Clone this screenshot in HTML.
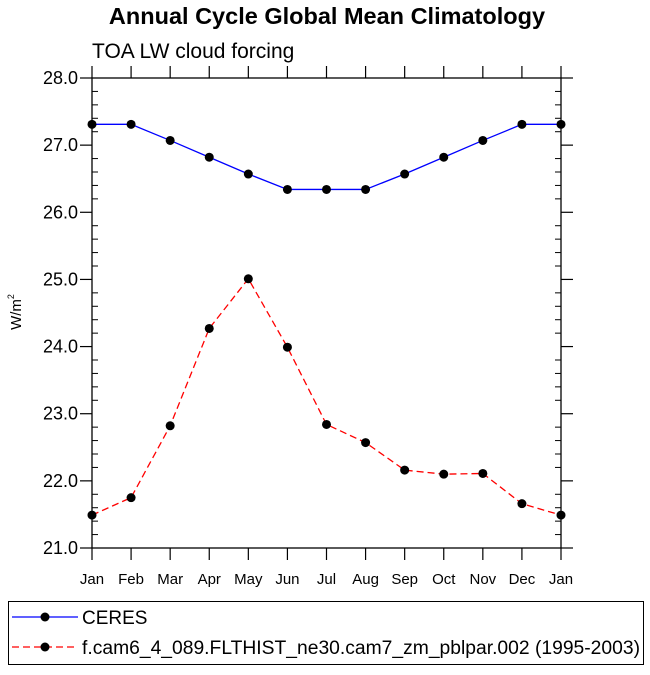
<!DOCTYPE html>
<html><head><meta charset="utf-8"><style>
body{margin:0;background:#fff;width:650px;height:670px;overflow:hidden;font-family:"Liberation Sans",sans-serif}
</style></head><body>
<svg width="650" height="670" xmlns="http://www.w3.org/2000/svg" id="chart" font-family="Liberation Sans, sans-serif">
<text x="327" y="24" text-anchor="middle" font-size="23.5" font-weight="bold">Annual Cycle Global Mean Climatology</text>
<text x="92" y="58" font-size="21">TOA LW cloud forcing</text>
<text transform="translate(21,312) rotate(-90)" text-anchor="middle" font-size="15">W/m<tspan font-size="9" dy="-7">2</tspan></text>
<g id="axes"></g>
<g id="series"></g>
<g>
<rect x="8.5" y="601.5" width="635" height="63" fill="none" stroke="#000"/>
<g>
<line x1="12" y1="617" x2="78" y2="617" stroke="#0000ff" stroke-width="1.3"/><circle cx="45" cy="617" r="4.5"/>
<text x="82" y="624" font-size="19">CERES</text></g>
<g>
<line x1="12" y1="647" x2="78" y2="647" stroke="#ff0000" stroke-width="1.3" stroke-dasharray="7,4"/><circle cx="45" cy="647" r="4.5"/>
<text x="82" y="654" font-size="19" textLength="558" lengthAdjust="spacingAndGlyphs">f.cam6_4_089.FLTHIST_ne30.cam7_zm_pblpar.002 (1995-2003)</text></g>
</g>
</svg>
<script>
const months=["Jan","Feb","Mar","Apr","May","Jun","Jul","Aug","Sep","Oct","Nov","Dec","Jan"];
const ceres=[27.31,27.31,27.07,26.82,26.57,26.34,26.34,26.34,26.57,26.82,27.07,27.31,27.31];
const model=[21.49,21.75,22.82,24.27,25.01,23.99,22.84,22.57,22.16,22.10,22.11,21.66,21.49];
const yTicks=["21.0","22.0","23.0","24.0","25.0","26.0","27.0","28.0"];
const NS="http://www.w3.org/2000/svg";
const L=92,R=561,T=78,B=548,ymin=21,ymax=28;
const xs=i=>L+i*(R-L)/(months.length-1);
const ys=v=>B-(v-ymin)/(ymax-ymin)*(B-T);
function mk(tag,at,parent){const e=document.createElementNS(NS,tag);for(const k in at)e.setAttribute(k,at[k]);parent.appendChild(e);return e;}
const ax=document.getElementById('axes');
const frame=mk('rect',{x:L,y:T,width:R-L,height:B-T,fill:'none',stroke:'#000','stroke-width':1.3},ax);


months.forEach((m,i)=>{const x=xs(i);
mk('line',{x1:x,y1:B,x2:x,y2:B+12,stroke:'#000','stroke-width':1.2},ax);
mk('line',{x1:x,y1:T,x2:x,y2:T-12,stroke:'#000','stroke-width':1.2},ax);
const t=mk('text',{x:x,y:B+36,'text-anchor':'middle','font-size':15},ax);t.textContent=m;

});
yTicks.forEach(s=>{const v=parseFloat(s),y=ys(v);
mk('line',{x1:L-12,y1:y,x2:L,y2:y,stroke:'#000','stroke-width':1.2},ax);
mk('line',{x1:R,y1:y,x2:R+12,y2:y,stroke:'#000','stroke-width':1.2},ax);
const t=mk('text',{x:L-14,y:y+6,'text-anchor':'end','font-size':18},ax);t.textContent=s;


if(v<ymax){for(let k=1;k<5;k++){const yy=ys(v+k*0.2);
mk('line',{x1:L,y1:yy,x2:L+6,y2:yy,stroke:'#000','stroke-width':1},ax);
mk('line',{x1:R-6,y1:yy,x2:R,y2:yy,stroke:'#000','stroke-width':1},ax);}}});
const sg=document.getElementById('series');
function draw(vals,color,dash,name){
const pts=vals.map((v,i)=>xs(i)+','+ys(v)).join(' ');
const pl=mk('polyline',{points:pts,fill:'none',stroke:color,'stroke-width':1.3,'stroke-dasharray':dash},sg);


vals.forEach((v,i)=>{const c=mk('circle',{cx:xs(i),cy:ys(v),r:4.5,fill:'#000'},sg);

});}
draw(ceres,'#0000ff','none','ceres');
draw(model,'#ff0000','7,4','model');
</script>
</body></html>
